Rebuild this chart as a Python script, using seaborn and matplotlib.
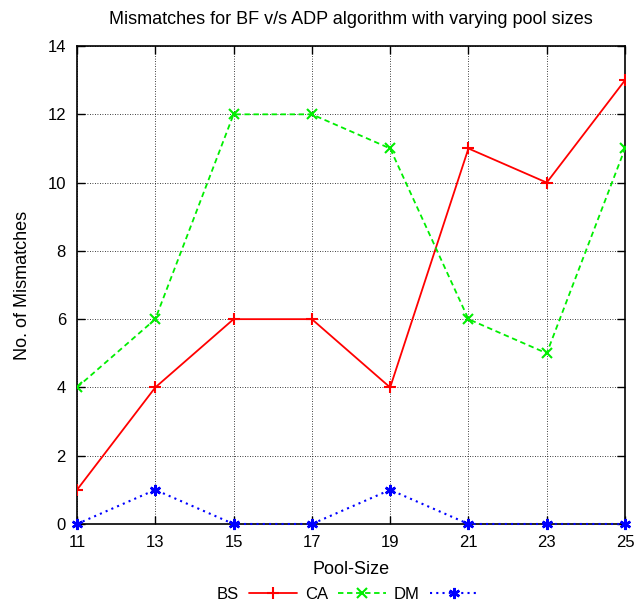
import matplotlib
matplotlib.use("Agg")
import matplotlib.pyplot as plt
import seaborn as sns
import pandas as pd

pool_size = [11, 13, 15, 17, 19, 21, 23, 25]
bs = [1, 4, 6, 6, 4, 11, 10, 13]
ca = [4, 6, 12, 12, 11, 6, 5, 11]
dm = [0, 1, 0, 0, 1, 0, 0, 0]
y_ticks = [0, 2, 4, 6, 8, 10, 12, 14]

sns.set_style("ticks")
plt.rcParams['font.family'] = ['Liberation Sans', 'DejaVu Sans']
plt.rcParams['text.color'] = 'black'
plt.rcParams['axes.labelcolor'] = 'black'
plt.rcParams['xtick.color'] = 'black'
plt.rcParams['ytick.color'] = 'black'

fig = plt.figure(figsize=(6.4, 6.14), dpi=100)
ax = fig.add_axes([0.1203, 0.1466, 0.8563, 0.7784])

df = pd.DataFrame({"x": pool_size, "BS": bs, "CA": ca, "DM": dm})

sns.lineplot(data=df, x="x", y="BS", ax=ax, color="#ff0000", lw=1.3,
             marker="+", markersize=9, markeredgewidth=1.5,
             markeredgecolor="#ff0000", label="BS", zorder=3)
sns.lineplot(data=df, x="x", y="CA", ax=ax, color="#00ee00", lw=1.3,
             linestyle=(0, (3, 2)), marker="x", markersize=7, markeredgewidth=1.5,
             markeredgecolor="#00ee00", label="CA", zorder=3)
sns.lineplot(data=df, x="x", y="DM", ax=ax, color="#0000ff", lw=1.5,
             linestyle=(0, (1, 2)), marker=(6, 2, 0), markersize=8,
             markeredgewidth=1.8, markeredgecolor="#0000ff", label="DM",
             zorder=3, clip_on=False)

ax.set_xlim(11, 25)
ax.set_ylim(0, 14)
ax.set_xticks(pool_size)
ax.set_yticks(y_ticks)
ax.grid(True, color="black", linestyle=(0, (1, 2)), linewidth=0.6)
ax.tick_params(direction="in", length=6, top=True, right=True, labelsize=12,
               width=1, color="black")
ax.tick_params(axis="x", pad=8)
ax.tick_params(axis="y", pad=8)
for s in ax.spines.values():
    s.set_visible(True)
    s.set_color("black")
    s.set_linewidth(1.2)

ax.set_xlabel("Pool-Size", fontsize=13, labelpad=8)
ax.set_ylabel("No. of Mismatches", fontsize=13, labelpad=12)
ax.set_title("Mismatches for BF v/s ADP algorithm with varying pool sizes",
             fontsize=13, pad=16)

h, l = ax.get_legend_handles_labels()
ax.get_legend().remove()
fig.legend(h, l, loc="lower center", bbox_to_anchor=(0.543, -0.005), ncol=3,
           frameon=False, markerfirst=False, fontsize=12, handlelength=2.9,
           columnspacing=0.45, handletextpad=0.6)

fig.savefig("out.png", dpi=100)
